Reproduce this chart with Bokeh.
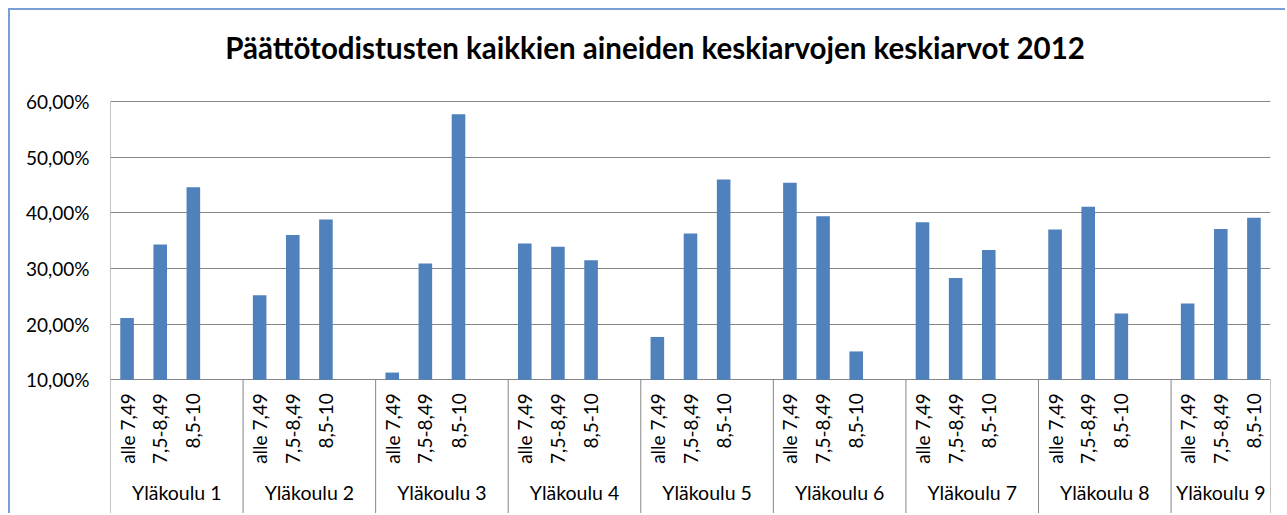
from bokeh.plotting import figure
from bokeh.models import Range1d, FixedTicker
from bokeh.embed import file_html
from bokeh.resources import INLINE
from bokeh.core.properties import value
import math

# ---- data ----
chart_title = "Päättötodistusten kaikkien aineiden keskiarvojen keskiarvot 2012"
schools = ["Yläkoulu 1", "Yläkoulu 2", "Yläkoulu 3", "Yläkoulu 4", "Yläkoulu 5",
           "Yläkoulu 6", "Yläkoulu 7", "Yläkoulu 8", "Yläkoulu 9"]
grades = ["alle 7,49", "7,5-8,49", "8,5-10"]
alle_7_49 = [21.1, 25.2, 11.3, 34.5, 17.7, 45.4, 38.3, 37.0, 23.7]
v_7_5_8_49 = [34.3, 36.0, 30.9, 33.9, 36.3, 39.4, 28.3, 41.1, 37.1]
v_8_5_10 = [44.6, 38.8, 57.7, 31.5, 46.0, 15.1, 33.3, 21.9, 39.1]
y_ticks = [10, 20, 30, 40, 50, 60]
y_tick_labels = ["10,00%", "20,00%", "30,00%", "40,00%", "50,00%", "60,00%"]

series = [alle_7_49, v_7_5_8_49, v_8_5_10]

# ---- layout helpers (category slots: 3 bars + 1 empty slot per school) ----
slots_per_group = len(grades) + 1
n_slots = len(schools) * slots_per_group - 1
edges = [g * slots_per_group for g in range(len(schools))] + [n_slots]
centers = [(edges[i] + edges[i + 1]) / 2 for i in range(len(schools))]

xs, tops, cat_x, cat_t = [], [], [], []
for g in range(len(schools)):
    for c in range(len(grades)):
        x = g * slots_per_group + c + 0.5
        xs.append(x)
        tops.append(series[c][g])
        cat_x.append(x)
        cat_t.append(grades[c])

FONT = "Lato"
AX = "#868686"
BLUE = "#4F81BD"

# vertical scale: frame spans the whole canvas height; value axis 10..60
PX_PER_UNIT = 278.3 / 50
TOP_PX = 91       # canvas px from top to 60 %
H = 505
y_top = y_ticks[-1] + TOP_PX / PX_PER_UNIT
y_bottom = y_top - H / PX_PER_UNIT

p = figure(width=1277, height=H, output_backend="svg", toolbar_location=None,
           x_range=Range1d(0, n_slots), y_range=Range1d(y_bottom, y_top),
           x_axis_location=None, min_border_left=100, min_border_right=17,
           min_border_top=0, min_border_bottom=0,
           background_fill_color="white", border_fill_color="white",
           outline_line_color=None)
p.styles = {"margin-left": "8px", "margin-top": "8px",
            "border-left": "2px solid #7A9FD4", "border-top": "2px solid #7A9FD4"}

for g in p.xgrid:
    g.visible = False
p.ygrid.ticker = FixedTicker(ticks=y_ticks)
p.ygrid.grid_line_color = AX
p.ygrid.grid_line_width = 1

ax = p.yaxis[0]
ax.ticker = FixedTicker(ticks=y_ticks)
ax.major_label_overrides = {t: l for t, l in zip(y_ticks, y_tick_labels)}
ax.axis_line_color = None
ax.major_tick_line_color = None
ax.minor_tick_line_color = None
ax.major_tick_out = 0
ax.major_label_standoff = 21
ax.major_label_text_font = FONT
ax.major_label_text_font_size = "19px"
ax.major_label_text_color = "black"

# title
p.text(x=[16.43], y=[69.7], text=[chart_title], text_align="center",
       text_baseline="middle", text_font=value(FONT), text_font_style="bold",
       text_font_size="29.5px", text_color="black")

# bars
p.vbar(x=xs, top=tops, bottom=y_ticks[0], width=0.41, fill_color=BLUE, line_color=None)

# separators of category axis
sep_top = [y_ticks[-1] if i == 0 else y_ticks[0] for i in range(len(edges))]
p.segment(x0=edges, y0=[y_bottom] * len(edges), x1=edges, y1=sep_top,
          line_color=AX, line_width=1)

# category labels (rotated)
p.text(x=cat_x, y=[7.6] * len(cat_x), text=cat_t, angle=math.pi / 2,
       text_align="right", text_baseline="middle", text_font=value(FONT),
       text_font_size="19px", text_color="black")

# school labels
p.text(x=centers, y=[-10.3] * len(centers), text=schools,
       text_align="center", text_baseline="middle", text_font=value(FONT),
       text_font_size="19.5px", text_color="black")

open("out.html", "w").write(file_html(p, INLINE))
